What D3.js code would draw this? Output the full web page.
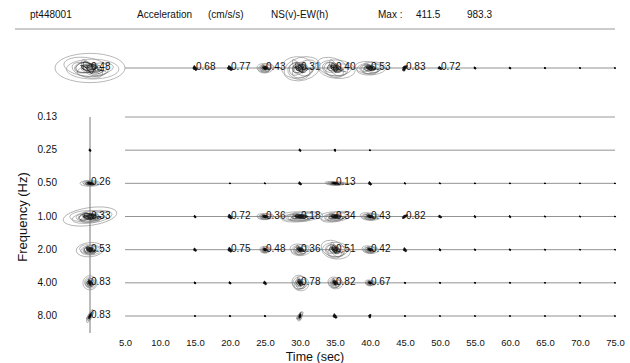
<!DOCTYPE html>
<html>
<head>
<meta charset="utf-8">
<script src="https://cdnjs.cloudflare.com/ajax/libs/d3/7.8.5/d3.min.js"></script>
<style>
  body { margin: 0; background: #fff; }
  text { font-family: "Liberation Sans", Arial, sans-serif; fill: #111; }
</style>
</head>
<body>
<svg id="chart" width="630" height="363"></svg>
<script>
// header texts
const header = ["pt448001", "Acceleration", "(cm/s/s)", "NS(v)-EW(h)", "Max :", "411.5", "983.3"];
const maxNS = 411.5, maxEW = 983.3;

// frequency bands and time ticks
const freqLabels = ["0.13", "0.25", "0.50", "1.00", "2.00", "4.00", "8.00"];
const timeTicks = [5, 10, 15, 20, 25, 30, 35, 40, 45, 50, 55, 60, 65, 70, 75];

// hodograms: [time, label, EW amplitude, NS amplitude, tilt]  (cm/s/s)
const broadband = [
  [15, 0.68, 85, 85, 0], [20, 0.77, 110, 85, 0], [25, 0.43, 225, 140, -10],
  [30, 0.31, 520, 360, -15], [35, 0.40, 520, 290, 5], [40, 0.53, 420, 200, -5],
  [45, 0.83, 85, 110, 60], [50, 0.72, 85, 55, 0], [55, null, 45, 40, 0],
  [60, null, 40, 35, 0], [65, null, 30, 25, 0], [70, null, 25, 20, 0], [75, null, 20, 15, 0]
];
// whole record per band (left column): [freq, label, EW, NS, tilt]
const wholeRecord = [
  ["0.25", null, 45, 45, 0], ["0.50", 0.26, 280, 85, 0], ["1.00", 0.33, 760, 250, -8],
  ["2.00", 0.53, 390, 200, -5], ["4.00", 0.83, 200, 200, 0], ["8.00", 0.83, 55, 200, 25]
];
const band013 = [];
const band025 = [
  [30, null, 45, 45, 0], [35, null, 45, 35, 40], [40, null, 20, 20, 0]
];
const band050 = [
  [20, null, 20, 20, 0], [25, null, 25, 25, 0], [30, null, 65, 55, 0],
  [35, 0.13, 280, 55, 0], [40, null, 65, 65, 0], [45, null, 30, 30, 0], [50, null, 25, 25, 0],
  [55, null, 20, 20, 0], [60, null, 20, 20, 0], [65, null, 15, 15, 0], [70, null, 15, 15, 0], [75, null, 15, 15, 0]
];
const band100 = [
  [15, null, 45, 45, 0], [20, 0.72, 85, 85, 0], [25, 0.36, 225, 90, -5], [30, 0.18, 580, 150, -6],
  [35, 0.34, 440, 150, -10], [40, 0.43, 280, 110, 0], [45, 0.82, 55, 110, 70], [50, null, 70, 50, 0],
  [55, null, 40, 40, 0], [60, null, 40, 40, 0], [65, null, 25, 25, 0], [70, null, 25, 25, 0], [75, null, 20, 20, 0]
];
const band200 = [
  [15, null, 60, 60, 0], [20, 0.75, 85, 85, 0], [25, 0.48, 140, 100, -10], [30, 0.36, 280, 170, -5],
  [35, 0.51, 400, 260, 5], [40, 0.42, 225, 110, 0], [45, null, 70, 70, 0], [50, null, 40, 40, 0],
  [55, null, 30, 30, 0], [60, null, 30, 30, 0], [65, null, 25, 25, 0], [70, null, 20, 20, 0], [75, null, 20, 20, 0]
];
const band400 = [
  [15, null, 35, 35, 0], [20, null, 45, 45, 0], [25, null, 65, 65, 0], [30, 0.78, 225, 225, 0],
  [35, 0.82, 200, 170, 0], [40, 0.67, 140, 85, 0], [45, null, 25, 25, 0], [50, null, 25, 25, 0],
  [55, null, 20, 20, 0], [60, null, 20, 20, 0], [65, null, 15, 15, 0], [70, null, 15, 15, 0], [75, null, 15, 15, 0]
];
const band800 = [
  [15, null, 20, 20, 0], [20, null, 25, 25, 0], [25, null, 25, 25, 0], [30, null, 55, 150, 20],
  [35, null, 80, 80, 0], [40, null, 60, 60, 45], [45, null, 20, 20, 0], [50, null, 15, 15, 0],
  [55, null, 15, 15, 0], [60, null, 15, 15, 0], [65, null, 15, 15, 0], [70, null, 15, 15, 0], [75, null, 15, 15, 0]
];
const bands = [band013, band025, band050, band100, band200, band400, band800];

const svg = d3.select("#chart");
const x = d3.scaleLinear().domain([0, 75]).range([90, 615]);
const y = d3.scalePoint().domain(freqLabels).range([117, 316]);
const yTop = 68;
const amp = d3.scaleLinear().domain([0, maxEW]).range([0, 35]);
const fmt = d3.format(".2f");

// header
const hx = [30, 137, 208, 271, 378, 416, 467];
svg.selectAll("text.hdr").data(header).enter().append("text")
  .attr("class", "hdr").attr("x", (d, i) => hx[i]).attr("y", 18)
  .attr("font-size", 10).text(d => d);
svg.append("line").attr("x1", 15).attr("x2", 615).attr("y1", 29).attr("y2", 29)
  .attr("stroke", "#ccc").attr("stroke-width", 2);

// baselines
svg.append("line").attr("x1", x(5)).attr("x2", x(75)).attr("y1", yTop).attr("y2", yTop)
  .attr("stroke", "#777").attr("stroke-width", 0.8);
svg.selectAll("line.row").data(freqLabels).enter().append("line")
  .attr("class", "row").attr("x1", x(5)).attr("x2", x(75))
  .attr("y1", d => y(d)).attr("y2", d => y(d))
  .attr("stroke", (d, i) => i == 0 ? "#ccc" : "#777")
  .attr("stroke-width", (d, i) => i == 0 ? 2 : 0.8);
svg.append("line").attr("x1", x(0)).attr("x2", x(0)).attr("y1", 117).attr("y2", 333)
  .attr("stroke", "#555").attr("stroke-width", 0.8);

// frequency labels
svg.selectAll("text.freq").data(freqLabels).enter().append("text")
  .attr("class", "freq").attr("x", 57).attr("y", d => y(d) + 3)
  .attr("text-anchor", "end").attr("font-size", 10).text(d => d);

// time axis
const axis = svg.append("g").attr("transform", "translate(0,337)")
  .call(d3.axisBottom(x).tickValues(timeTicks).tickSize(0).tickFormat(d3.format(".1f")));
axis.select(".domain").remove();
axis.selectAll("text").attr("font-size", 9.5).attr("dy", "0.6em")
  .attr("font-family", "Liberation Sans, Arial, sans-serif").attr("fill", "#111");

svg.append("text").attr("x", 315).attr("y", 361).attr("text-anchor", "middle")
  .attr("font-size", 12.5).text("Time (sec)");
svg.append("text").attr("transform", "translate(27,217) rotate(-90)")
  .attr("text-anchor", "middle").attr("font-size", 13).text("Frequency (Hz)");

// hodogram drawing
function spiral(rx, ry, f0, f1, turns) {
  const n = Math.max(40, Math.round(turns * 36));
  return d3.line().curve(d3.curveCardinal)(d3.range(n + 1).map(k => {
    const u = k / n, th = u * turns * 2 * Math.PI, f = f0 + (f1 - f0) * u;
    return [rx * f * (0.7 * Math.cos(th) + 0.3 * Math.cos(1.6 * th + 1.3)),
            ry * f * (0.7 * Math.sin(th + 0.3) + 0.3 * Math.sin(2.3 * th + 0.5))];
  }));
}
// loose outer loops: scale, aspect, rotation, offset
const loopStyle = [[1, 0.9, 0, 0.1, 0.1], [0.85, 1, 18, -0.15, -0.1], [0.7, 0.8, -22, 0.2, 0.15], [0.6, 1.1, 35, -0.1, 0.2]];
function hodo(cx, cy, d, outline) {
  const rx = Math.max(amp(d[2]), 0.6), ry = Math.max(amp(d[3]), 0.6);
  const g = svg.append("g").attr("transform", `translate(${cx},${cy}) rotate(${d[4]})`);
  if (Math.max(rx, ry) > 4) {
    if (outline) {
      g.append("ellipse").attr("rx", rx).attr("ry", ry)
        .attr("fill", "none").attr("stroke", "#888").attr("stroke-width", 0.6);
    }
    const s = outline ? 0.75 : 1;
    loopStyle.forEach(l => {
      g.append("ellipse")
        .attr("transform", `translate(${l[3] * rx * s},${l[4] * ry * s}) rotate(${l[2] * Math.min(1, ry / rx)})`)
        .attr("rx", rx * s * l[0]).attr("ry", ry * s * l[0] * l[1])
        .attr("fill", "none").attr("stroke", "#777").attr("stroke-width", 0.5);
    });
    g.append("path").attr("d", spiral(rx * s, ry * s, 0.9, 0.3, 3))
      .attr("fill", "none").attr("stroke", "#666").attr("stroke-width", 0.5);
    g.append("path").attr("d", spiral(rx, ry, 0.5, 0.05, 8))
      .attr("fill", "none").attr("stroke", "#111").attr("stroke-width", 0.55);
  } else {
    g.append("path").attr("d", spiral(rx, ry, 1, 0.1, 4))
      .attr("fill", "#222").attr("stroke", "#111").attr("stroke-width", 0.7);
  }
  if (d[1] != null) {
    svg.append("text").attr("x", cx + 1).attr("y", cy + 2)
      .attr("font-size", 10).text(fmt(d[1]));
  }
}

hodo(x(0), yTop, [0, 0.48, maxEW, maxNS, 0], true);
broadband.forEach(d => hodo(x(d[0]), yTop, d, false));
wholeRecord.forEach(d => hodo(x(0), y(d[0]), d, true));
bands.forEach((b, i) => b.forEach(d => hodo(x(d[0]), y(freqLabels[i]), d, false)));
</script>
</body>
</html>
